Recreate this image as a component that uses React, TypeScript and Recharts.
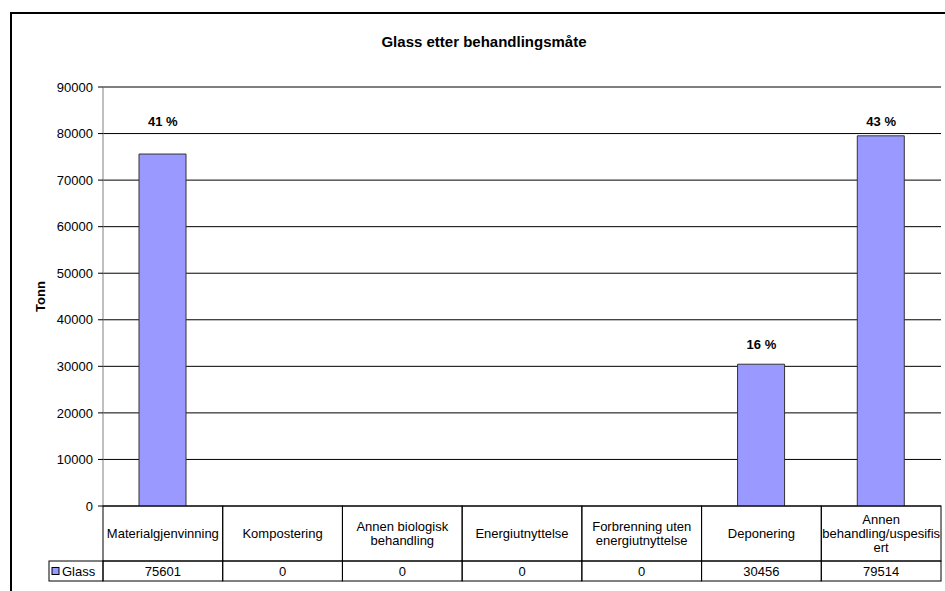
import {
  Bar,
  CartesianGrid,
  ComposedChart,
  LabelList,
  Line,
  ReferenceLine,
  XAxis,
  YAxis,
} from "recharts";

const CATEGORIES = [
  "Materialgjenvinning",
  "Kompostering",
  "Annen biologisk\nbehandling",
  "Energiutnyttelse",
  "Forbrenning uten\nenergiutnyttelse",
  "Deponering",
  "Annen\nbehandling/uspesifis\nert",
];
const GLASS = [75601, 0, 0, 0, 0, 30456, 79514];
// height (in tonnes) where each percentage label sits in the original
const LABEL_LEVELS = [82500, null, null, null, null, 34600, 82500];
const Y_TICKS = [0, 10000, 20000, 30000, 40000, 50000, 60000, 70000, 80000, 90000];

const FONT = "'Liberation Sans', Arial, sans-serif";
const BAR_FILL = "#9999FF";
const TOTAL = GLASS.reduce((a, b) => a + b, 0);

const data = CATEGORIES.map((name, i) => ({
  name,
  glass: GLASS[i],
  labelAt: LABEL_LEVELS[i],
  pct: GLASS[i] > 0 ? `${Math.round((GLASS[i] / TOTAL) * 100)} %` : "",
}));

function TableTick(props: any) {
  const { x, y, payload, index } = props;
  const band =
    props.width && props.visibleTicksCount
      ? props.width / props.visibleTicksCount
      : payload?.offset
      ? payload.offset * 2
      : 119.7;
  const x0 = x - band / 2;
  const lines = String(payload.value).split("\n");
  const mid = y + 27.5;
  return (
    <g fontFamily={FONT} fontSize={13} fill="#000">
      <rect x={x0} y={y} width={band} height={55} fill="none" stroke="#000" />
      <rect x={x0} y={y + 55} width={band} height={20} fill="none" stroke="#000" />
      {lines.map((ln, k) => (
        <text
          key={k}
          x={x}
          y={mid + (k - (lines.length - 1) / 2) * 14}
          textAnchor="middle"
          dominantBaseline="central"
        >
          {ln}
        </text>
      ))}
      <text x={x} y={y + 65} textAnchor="middle" dominantBaseline="central">
        {GLASS[index]}
      </text>
      {index === 0 && (
        <g>
          <rect x={x0 - 54} y={y + 55} width={54} height={20} fill="none" stroke="#000" />
          <rect x={x0 - 51} y={y + 61.5} width={7} height={7} fill={BAR_FILL} stroke="#000" />
          <text x={x0 - 41} y={y + 65} dominantBaseline="central">
            Glass
          </text>
        </g>
      )}
    </g>
  );
}

function PctLabel(props: any) {
  const { x, y, value } = props;
  if (!value || y == null || isNaN(y)) return null;
  return (
    <text
      x={x}
      y={y}
      textAnchor="middle"
      dominantBaseline="central"
      fontFamily={FONT}
      fontSize={13}
      fontWeight="bold"
      fill="#000"
    >
      {value}
    </text>
  );
}

function TonnLabel(props: any) {
  const vb = props.viewBox || { x: 33, y: 87, width: 70, height: 419 };
  const cx = vb.x + 7;
  const cy = vb.y + vb.height / 2;
  return (
    <text
      x={cx}
      y={cy}
      transform={`rotate(-90 ${cx} ${cy})`}
      textAnchor="middle"
      dominantBaseline="central"
      fontFamily={FONT}
      fontSize={13}
      fontWeight="bold"
      fill="#000"
    >
      Tonn
    </text>
  );
}

export default function App() {
  return (
    <div
      style={{
        position: "absolute",
        left: 0,
        top: 0,
        width: 945,
        height: 591,
        overflow: "hidden",
        background: "#fff",
      }}
    >
      <div
        style={{
          position: "absolute",
          left: 10,
          top: 12,
          width: 960,
          height: 600,
          border: "2px solid #000",
        }}
      />
      <div
        style={{
          position: "absolute",
          left: 0,
          top: 33,
          width: 968,
          textAlign: "center",
          fontFamily: FONT,
          fontSize: 15,
          fontWeight: "bold",
          lineHeight: "18px",
        }}
      >
        Glass etter behandlingsmåte
      </div>
      <div style={{ position: "absolute", left: 0, top: 0 }}>
        <ComposedChart
          width={945}
          height={591}
          data={data}
          margin={{ top: 87, right: 4, bottom: 10, left: 33 }}
          barCategoryGap={0}
        >
          <CartesianGrid vertical={false} stroke="#000" />
          <XAxis
            dataKey="name"
            interval={0}
            height={75}
            tickLine={false}
            axisLine={false}
            tickSize={0}
            tickMargin={0}
            tick={<TableTick />}
          />
          <YAxis
            width={70}
            domain={[0, 90000]}
            ticks={Y_TICKS}
            interval={0}
            allowDataOverflow
            tickSize={5}
            tickMargin={5}
            axisLine={{ stroke: "#808080" }}
            tickLine={{ stroke: "#000" }}
            tick={{ fontFamily: FONT, fontSize: 13, fill: "#000" }}
            label={<TonnLabel />}
          />
          <YAxis
            yAxisId="r"
            orientation="right"
            width={0}
            domain={[0, 90000]}
            tick={false}
            tickLine={false}
            axisLine={{ stroke: "#808080" }}
          />
          <ReferenceLine y={90000} stroke="#808080" />
          <Bar
            dataKey="glass"
            fill={BAR_FILL}
            stroke="#333"
            strokeWidth={1}
            barSize={47}
            isAnimationActive={false}
          />
          <Line
            dataKey="labelAt"
            stroke="none"
            dot={false}
            activeDot={false}
            legendType="none"
            isAnimationActive={false}
          >
            <LabelList dataKey="pct" content={<PctLabel />} />
          </Line>
        </ComposedChart>
      </div>
    </div>
  );
}
